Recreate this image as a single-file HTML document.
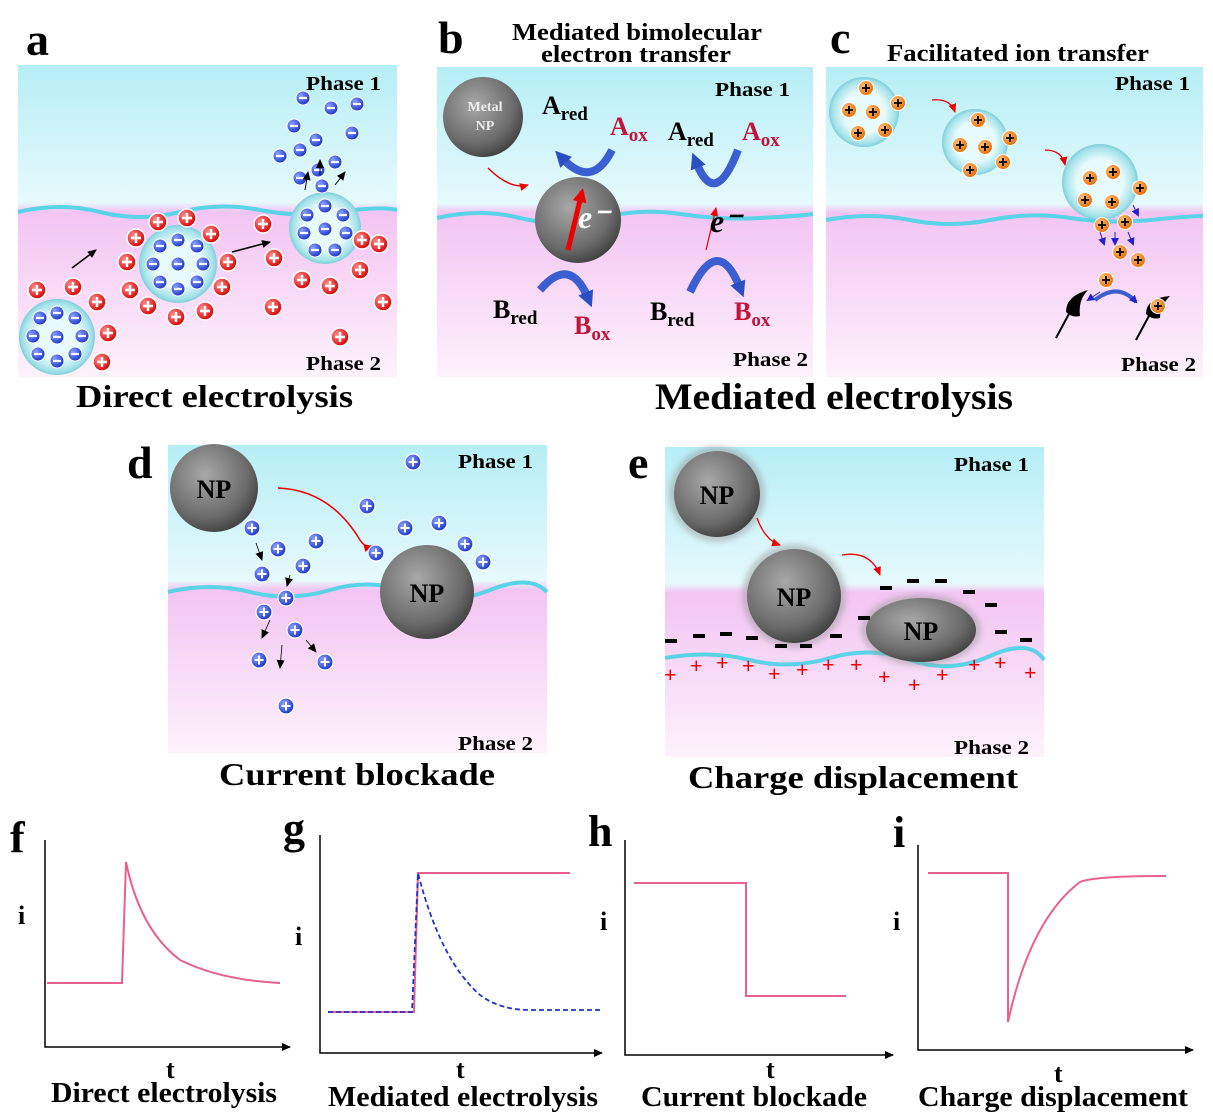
<!DOCTYPE html>
<html><head><meta charset="utf-8"><style>
html,body{margin:0;padding:0;background:#fff;width:1213px;height:1119px;overflow:hidden}
svg{display:block}
text{font-family:"Liberation Serif",serif;font-weight:bold}
</style></head><body>
<svg width="1213" height="1119" viewBox="0 0 1213 1119" xmlns="http://www.w3.org/2000/svg">
<defs>
<linearGradient id="bg" x1="0" y1="0" x2="0" y2="1">
<stop offset="0" stop-color="#b6eef6"/><stop offset="0.44" stop-color="#e6fafc"/>
<stop offset="0.47" stop-color="#f3c4f3"/><stop offset="1" stop-color="#fdf2fb"/></linearGradient>
<radialGradient id="np" cx="0.4" cy="0.35" r="0.7"><stop offset="0" stop-color="#a8a8a8"/><stop offset="0.7" stop-color="#6a6a6a"/><stop offset="1" stop-color="#3c3c3c"/></radialGradient>
<radialGradient id="bub" cx="0.5" cy="0.5" r="0.5"><stop offset="0.6" stop-color="#e8fbfc"/><stop offset="0.9" stop-color="#a5e2ea"/><stop offset="1" stop-color="#7fcfdc"/></radialGradient>
<radialGradient id="rg" cx="0.35" cy="0.35" r="0.7"><stop offset="0" stop-color="#ff8a8a"/><stop offset="1" stop-color="#d40000"/></radialGradient>
<radialGradient id="bgr" cx="0.35" cy="0.35" r="0.7"><stop offset="0" stop-color="#8aa0ff"/><stop offset="1" stop-color="#1833c8"/></radialGradient>
<radialGradient id="og" cx="0.35" cy="0.35" r="0.7"><stop offset="0" stop-color="#ffc27a"/><stop offset="1" stop-color="#e46a00"/></radialGradient>
<g id="rp"><circle r="9" fill="url(#rg)" stroke="#fff" stroke-width="1.5"/><path d="M-5 0H5M0-5V5" stroke="#fff" stroke-width="2.4"/></g>
<g id="bm"><circle r="7" fill="url(#bgr)" stroke="#fff" stroke-width="1"/><path d="M-4 0H4" stroke="#fff" stroke-width="2.2"/></g>
<g id="bp"><circle r="8" fill="url(#bgr)" stroke="#fff" stroke-width="1.2"/><path d="M-4.5 0H4.5M0-4.5V4.5" stroke="#fff" stroke-width="2"/></g>
<g id="op"><circle r="7.5" fill="url(#og)" stroke="#fff" stroke-width="1"/><path d="M-4 0H4M0-4V4" stroke="#000" stroke-width="1.8"/></g>
<marker id="ar" markerUnits="userSpaceOnUse" markerWidth="10" markerHeight="10" refX="8" refY="5" orient="auto"><path d="M0,1 L9,5 L0,9 z" fill="#000"/></marker>
<marker id="arr" markerUnits="userSpaceOnUse" markerWidth="10" markerHeight="10" refX="8" refY="5" orient="auto"><path d="M0,1 L9,5 L0,9 z" fill="#e00"/></marker>
<marker id="arrb" markerUnits="userSpaceOnUse" markerWidth="16" markerHeight="16" refX="10" refY="8" orient="auto"><path d="M0,1 L14,8 L0,15 z" fill="#e00"/></marker>
<marker id="arb" markerUnits="userSpaceOnUse" markerWidth="8" markerHeight="8" refX="6" refY="4" orient="auto"><path d="M0,0 L8,4 L0,8 z" fill="#22c"/></marker>
<marker id="abig" markerUnits="userSpaceOnUse" markerWidth="20" markerHeight="20" refX="6" refY="10" orient="auto"><path d="M0,2 L16,10 L0,18 z" fill="#2a4fc0"/></marker>
<filter id="blur"><feGaussianBlur stdDeviation="3"/></filter>
</defs>

<rect x="18" y="65" width="379" height="312" fill="url(#bg)"/>
<rect x="437" y="67" width="376" height="310" fill="url(#bg)"/>
<rect x="826" y="67" width="377" height="310" fill="url(#bg)"/>
<rect x="168" y="445" width="379" height="308" fill="url(#bg)"/>
<rect x="665" y="447" width="379" height="310" fill="url(#bg)"/>
<path d="M18 212 Q60 202 100 212 T180 212 T260 210 T340 212 T397 210" stroke="#5bd3e6" stroke-width="4" fill="none"/>
<path d="M437 218 Q480 208 520 218 T600 218 T680 214 T760 218 T813 214" stroke="#5bd3e6" stroke-width="4" fill="none"/>
<path d="M826 220 Q870 212 910 220 T990 220 T1070 218 T1150 220 T1203 216" stroke="#5bd3e6" stroke-width="4" fill="none"/>
<path d="M168 592 Q210 582 250 592 T330 590 T410 592 T490 590 T547 592" stroke="#5bd3e6" stroke-width="4" fill="none"/>
<path d="M665 658 Q710 650 750 660 T830 658 T910 660 T990 656 T1044 660" stroke="#5bd3e6" stroke-width="4" fill="none"/>

<text x="26" y="55" font-size="46">a</text>
<text x="438" y="53" font-size="46">b</text>
<text x="830" y="53" font-size="46">c</text>
<text x="127" y="478" font-size="46">d</text>
<text x="628" y="478" font-size="46">e</text>
<text x="512" y="40" font-size="24" textLength="250" lengthAdjust="spacingAndGlyphs">Mediated bimolecular</text>
<text x="541" y="62" font-size="24" textLength="190" lengthAdjust="spacingAndGlyphs">electron transfer</text>
<text x="887" y="61" font-size="24" textLength="262" lengthAdjust="spacingAndGlyphs">Facilitated ion transfer</text>
<text x="76" y="407" font-size="32" textLength="277" lengthAdjust="spacingAndGlyphs">Direct electrolysis</text>
<text x="655" y="409" font-size="37" textLength="358" lengthAdjust="spacingAndGlyphs">Mediated electrolysis</text>
<text x="219" y="785" font-size="32" textLength="276" lengthAdjust="spacingAndGlyphs">Current blockade</text>
<text x="688" y="788" font-size="32" textLength="330" lengthAdjust="spacingAndGlyphs">Charge displacement</text>

<g font-size="20">
<text x="306" y="90" textLength="75" lengthAdjust="spacingAndGlyphs">Phase 1</text><text x="306" y="370" textLength="75" lengthAdjust="spacingAndGlyphs">Phase 2</text>
<text x="715" y="96" textLength="75" lengthAdjust="spacingAndGlyphs">Phase 1</text><text x="733" y="366" textLength="75" lengthAdjust="spacingAndGlyphs">Phase 2</text>
<text x="1115" y="90" textLength="75" lengthAdjust="spacingAndGlyphs">Phase 1</text><text x="1121" y="371" textLength="75" lengthAdjust="spacingAndGlyphs">Phase 2</text>
<text x="458" y="468" textLength="75" lengthAdjust="spacingAndGlyphs">Phase 1</text><text x="458" y="750" textLength="75" lengthAdjust="spacingAndGlyphs">Phase 2</text>
<text x="954" y="471" textLength="75" lengthAdjust="spacingAndGlyphs">Phase 1</text><text x="954" y="754" textLength="75" lengthAdjust="spacingAndGlyphs">Phase 2</text>
</g>

<!-- panel a -->
<g>
<circle cx="57" cy="337" r="38" fill="url(#bub)"/>
<circle cx="178" cy="264" r="39" fill="url(#bub)"/>
<circle cx="325" cy="228" r="36" fill="url(#bub)"/>
<use href="#bm" x="57" y="313"/><use href="#bm" x="75" y="318"/><use href="#bm" x="82" y="336"/><use href="#bm" x="75" y="354"/><use href="#bm" x="57" y="361"/><use href="#bm" x="38" y="354"/><use href="#bm" x="33" y="336"/><use href="#bm" x="40" y="318"/><use href="#bm" x="57" y="337"/>
<use href="#bm" x="178" y="240"/><use href="#bm" x="197" y="246"/><use href="#bm" x="203" y="264"/><use href="#bm" x="197" y="282"/><use href="#bm" x="178" y="289"/><use href="#bm" x="160" y="282"/><use href="#bm" x="153" y="264"/><use href="#bm" x="160" y="246"/><use href="#bm" x="178" y="264"/>
<use href="#bm" x="325" y="206"/><use href="#bm" x="343" y="215"/><use href="#bm" x="346" y="233"/><use href="#bm" x="335" y="250"/><use href="#bm" x="315" y="250"/><use href="#bm" x="304" y="233"/><use href="#bm" x="307" y="215"/><use href="#bm" x="325" y="229"/>
<use href="#bm" x="303" y="98"/><use href="#bm" x="331" y="108"/><use href="#bm" x="357" y="104"/><use href="#bm" x="352" y="133"/><use href="#bm" x="316" y="140"/><use href="#bm" x="280" y="156"/><use href="#bm" x="294" y="126"/><use href="#bm" x="300" y="150"/><use href="#bm" x="318" y="170"/><use href="#bm" x="335" y="162"/><use href="#bm" x="300" y="178"/><use href="#bm" x="322" y="186"/>
<use href="#rp" x="37" y="290"/><use href="#rp" x="73" y="287"/><use href="#rp" x="97" y="302"/><use href="#rp" x="108" y="333"/><use href="#rp" x="102" y="362"/>
<use href="#rp" x="136" y="238"/><use href="#rp" x="158" y="222"/><use href="#rp" x="187" y="218"/><use href="#rp" x="211" y="234"/><use href="#rp" x="127" y="262"/><use href="#rp" x="130" y="290"/><use href="#rp" x="148" y="306"/><use href="#rp" x="176" y="317"/><use href="#rp" x="205" y="311"/><use href="#rp" x="222" y="287"/><use href="#rp" x="228" y="262"/>
<use href="#rp" x="263" y="224"/><use href="#rp" x="274" y="258"/><use href="#rp" x="302" y="280"/><use href="#rp" x="330" y="286"/><use href="#rp" x="360" y="270"/><use href="#rp" x="362" y="240"/><use href="#rp" x="379" y="244"/><use href="#rp" x="383" y="302"/><use href="#rp" x="273" y="307"/><use href="#rp" x="340" y="337"/>
<path d="M72 268 L96 250" stroke="#000" stroke-width="1.5" marker-end="url(#ar)"/>
<path d="M232 252 L270 242" stroke="#000" stroke-width="1.5" marker-end="url(#ar)"/>
<path d="M305 190 L308 172" stroke="#000" stroke-width="1" marker-end="url(#ar)"/>
<path d="M320 175 L320 160" stroke="#000" stroke-width="1" marker-end="url(#ar)"/>
<path d="M335 185 L345 172" stroke="#000" stroke-width="1" marker-end="url(#ar)"/>
</g>

<!-- panel b -->
<circle cx="483" cy="117" r="40" fill="url(#np)"/>
<text x="485" y="111" font-size="14" text-anchor="middle" fill="#eee" font-weight="normal">Metal</text>
<text x="485" y="130" font-size="14" text-anchor="middle" fill="#eee" font-weight="normal">NP</text>
<path d="M488 168 Q510 190 528 185" stroke="#e00" stroke-width="1.5" fill="none" marker-end="url(#arr)"/>
<circle cx="578" cy="220" r="43" fill="url(#np)"/>
<path d="M568 250 L582 192" stroke="#e00" stroke-width="5" marker-end="url(#arrb)"/>
<text x="578" y="228" font-size="32" fill="#fff" font-style="italic">e⁻</text>
<g fill="none" stroke="#3b5fd0" stroke-width="8">
<path d="M612 150 Q592 190 562 158" marker-end="url(#abig)"/>
<path d="M540 290 Q570 255 588 298" marker-end="url(#abig)"/>
<path d="M738 150 Q715 210 696 162" marker-end="url(#abig)"/>
<path d="M690 292 Q718 232 740 288" marker-end="url(#abig)"/>
</g>
<path d="M706 250 L716 208" stroke="#e00" stroke-width="1.2" marker-end="url(#arr)"/>
<text x="710" y="232" font-size="32" fill="#000" font-style="italic">e⁻</text>
<g font-size="26">
<text x="542" y="114">A<tspan font-size="19" dy="6">red</tspan></text>
<text x="610" y="135" fill="#c0143c">A<tspan font-size="19" dy="6">ox</tspan></text>
<text x="668" y="140">A<tspan font-size="19" dy="6">red</tspan></text>
<text x="742" y="140" fill="#c0143c">A<tspan font-size="19" dy="6">ox</tspan></text>
<text x="493" y="318">B<tspan font-size="19" dy="6">red</tspan></text>
<text x="574" y="334" fill="#c0143c">B<tspan font-size="19" dy="6">ox</tspan></text>
<text x="650" y="320">B<tspan font-size="19" dy="6">red</tspan></text>
<text x="734" y="320" fill="#c0143c">B<tspan font-size="19" dy="6">ox</tspan></text>
</g>

<!-- panel c -->
<circle cx="864" cy="112" r="35" fill="url(#bub)"/>
<circle cx="975" cy="142" r="33" fill="url(#bub)"/>
<circle cx="1100" cy="182" r="38" fill="url(#bub)"/>
<use href="#op" x="866" y="88"/><use href="#op" x="849" y="110"/><use href="#op" x="873" y="112"/><use href="#op" x="898" y="103"/><use href="#op" x="858" y="133"/><use href="#op" x="885" y="130"/>
<use href="#op" x="978" y="120"/><use href="#op" x="960" y="145"/><use href="#op" x="985" y="147"/><use href="#op" x="1010" y="138"/><use href="#op" x="970" y="170"/><use href="#op" x="1003" y="162"/>
<use href="#op" x="1090" y="178"/><use href="#op" x="1113" y="172"/><use href="#op" x="1140" y="188"/><use href="#op" x="1085" y="200"/><use href="#op" x="1112" y="202"/>
<use href="#op" x="1102" y="225"/><use href="#op" x="1125" y="222"/><use href="#op" x="1120" y="252"/><use href="#op" x="1138" y="260"/><use href="#op" x="1106" y="280"/>
<path d="M932 100 Q950 98 955 112" stroke="#e00" stroke-width="1.3" fill="none" marker-end="url(#arr)"/>
<path d="M1045 150 Q1062 150 1065 165" stroke="#e00" stroke-width="1.3" fill="none" marker-end="url(#arr)"/>
<g stroke="#22c" stroke-width="1" marker-end="url(#arb)">
<path d="M1100 232 L1104 244"/><path d="M1115 232 L1115 244"/><path d="M1128 232 L1133 244"/><path d="M1133 205 L1138 215"/><path d="M1100 292 L1088 300"/>
</g>
<path d="M1056 338 L1070 312" stroke="#000" stroke-width="2"/>
<path d="M1066 312 Q1066 296 1088 290 Q1078 300 1080 316 Q1072 318 1066 312 z" fill="#000"/>
<path d="M1136 340 L1150 314" stroke="#000" stroke-width="2"/>
<path d="M1146 314 Q1146 298 1170 296 Q1160 306 1160 318 Q1152 320 1146 314 z" fill="#000"/>
<use href="#op" x="1158" y="306"/>
<path d="M1095 300 Q1118 282 1136 302" stroke="#3b5fd0" stroke-width="4" fill="none" marker-end="url(#arb)"/>

<!-- panel d -->
<circle cx="214" cy="488" r="44" fill="url(#np)"/>
<text x="214" y="498" font-size="26" text-anchor="middle">NP</text>
<circle cx="427" cy="592" r="47" fill="url(#np)"/>
<text x="427" y="602" font-size="26" text-anchor="middle">NP</text>
<path d="M278 488 Q330 490 360 540 Q365 548 372 546" stroke="#e00" stroke-width="1.5" fill="none" marker-end="url(#arr)"/>
<use href="#bp" x="413" y="462"/><use href="#bp" x="367" y="506"/><use href="#bp" x="405" y="528"/><use href="#bp" x="439" y="523"/><use href="#bp" x="465" y="544"/><use href="#bp" x="483" y="562"/><use href="#bp" x="376" y="553"/><use href="#bp" x="316" y="541"/>
<use href="#bp" x="252" y="528"/><use href="#bp" x="278" y="549"/><use href="#bp" x="262" y="574"/><use href="#bp" x="303" y="566"/><use href="#bp" x="286" y="598"/><use href="#bp" x="264" y="612"/><use href="#bp" x="295" y="630"/><use href="#bp" x="259" y="660"/><use href="#bp" x="325" y="662"/><use href="#bp" x="286" y="706"/>
<g stroke="#000" stroke-width="0.8" marker-end="url(#ar)"><path d="M256 543 L262 560"/><path d="M290 575 L287 586"/><path d="M270 620 L262 638"/><path d="M282 645 L280 668"/><path d="M306 640 L316 652"/></g>

<!-- panel e -->
<circle cx="717" cy="494" r="48" fill="#9a9a9a" opacity="0.5" filter="url(#blur)"/>
<circle cx="717" cy="494" r="43" fill="url(#np)"/>
<text x="717" y="504" font-size="26" text-anchor="middle">NP</text>
<circle cx="794" cy="596" r="52" fill="#9a9a9a" opacity="0.5" filter="url(#blur)"/>
<circle cx="794" cy="596" r="47" fill="url(#np)"/>
<text x="794" y="606" font-size="26" text-anchor="middle">NP</text>
<ellipse cx="921" cy="630" rx="60" ry="36" fill="#9a9a9a" opacity="0.5" filter="url(#blur)"/>
<ellipse cx="921" cy="630" rx="55" ry="32" fill="url(#np)"/>
<text x="921" y="640" font-size="26" text-anchor="middle">NP</text>
<path d="M757 518 Q765 540 780 545" stroke="#e00" stroke-width="1.3" fill="none" marker-end="url(#arr)"/>
<path d="M842 555 Q870 550 880 575" stroke="#e00" stroke-width="1.3" fill="none" marker-end="url(#arr)"/>
<g stroke="#000" stroke-width="4">
<path d="M665 641h12M693 636h12M720 634h12M746 638h12M775 646h12M800 646h12M830 636h12M858 618h12M880 588h12M907 581h12M935 581h12M963 592h12M985 605h12M995 632h12M1020 640h12"/>
</g>
<g fill="#e00" font-size="22" font-weight="normal">
<text x="664" y="682">+</text><text x="690" y="673">+</text><text x="716" y="670">+</text><text x="742" y="673">+</text><text x="768" y="681">+</text><text x="796" y="677">+</text><text x="822" y="672">+</text><text x="850" y="672">+</text><text x="878" y="684">+</text><text x="908" y="692">+</text><text x="936" y="682">+</text><text x="968" y="672">+</text><text x="994" y="670">+</text><text x="1024" y="680">+</text>
</g>

<!-- graphs -->
<g stroke="#000" stroke-width="1.5" fill="none">
<path d="M45 840 V1047 H290" marker-end="url(#ar)"/>
<path d="M320 835 V1053 H602" marker-end="url(#ar)"/>
<path d="M625 840 V1055 H893" marker-end="url(#ar)"/>
<path d="M918 845 V1050 H1193" marker-end="url(#ar)"/>
</g>
<g stroke="#e8608f" stroke-width="2" fill="none">
<path d="M47 983 H122 L126 862 Q140 930 180 960 Q220 980 280 983"/>
<path d="M328 1012 H414 L418 873 H570"/>
<path d="M634 883 H746 V996 H846"/>
<path d="M928 873 H1008 L1008 1022 Q1030 920 1080 882 Q1095 876 1166 876"/>
</g>
<path d="M328 1012 H412 L418 873 Q440 960 480 995 Q500 1010 530 1010 H600" stroke="#2233cc" stroke-width="1.8" stroke-dasharray="5,3" fill="none"/>
<g font-size="44"><text x="10" y="852">f</text><text x="283" y="843">g</text><text x="588" y="846">h</text><text x="893" y="847">i</text></g>
<g font-size="26">
<text x="18" y="924">i</text><text x="295" y="945">i</text><text x="600" y="930">i</text><text x="893" y="930">i</text>
<text x="166" y="1078">t</text><text x="456" y="1078">t</text><text x="766" y="1078">t</text><text x="1054" y="1082">t</text>
<text x="51" y="1102" font-size="28" textLength="226" lengthAdjust="spacingAndGlyphs">Direct electrolysis</text>
<text x="328" y="1106" font-size="28" textLength="270" lengthAdjust="spacingAndGlyphs">Mediated electrolysis</text>
<text x="641" y="1106" font-size="28" textLength="226" lengthAdjust="spacingAndGlyphs">Current blockade</text>
<text x="918" y="1106" font-size="28" textLength="270" lengthAdjust="spacingAndGlyphs">Charge displacement</text>
</g>
</svg>
</body></html>
